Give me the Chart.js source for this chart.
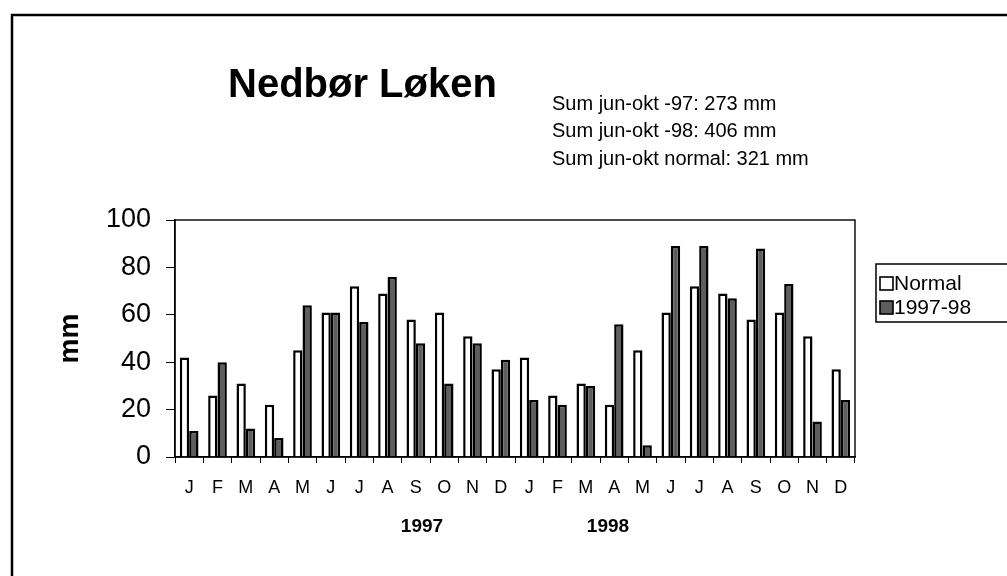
<!DOCTYPE html>
<html><head><meta charset="utf-8">
<script src="https://cdn.jsdelivr.net/npm/chart.js@4"></script>
<style>html,body{margin:0;padding:0;background:#fff}#wrap{width:1007px;height:576px;position:relative}</style>
</head><body><div id="wrap"><canvas id="c" width="1007" height="576"></canvas></div>
<script>
const months = ['J','F','M','A','M','J','J','A','S','O','N','D','J','F','M','A','M','J','J','A','S','O','N','D'];
const normal = [42,26,31,22,45,61,72,69,58,61,51,37, 42,26,31,22,45,61,72,69,58,61,51,37];
const obs = [11,40,12,8,64,61,57,76,48,31,48,41, 24,22,30,56,5,89,89,67,88,73,15,24];
const yTicks = [0,20,40,60,80,100];
const yearLabels = ['1997','1998'];
const titleText = 'Nedbør Løken';
const notes = ['Sum jun-okt -97: 273 mm','Sum jun-okt -98: 406 mm','Sum jun-okt normal: 321 mm'];
const seriesNames = ['Normal','1997-98'];

const FONT = "'Liberation Sans', Arial, sans-serif";
Chart.defaults.font.family = FONT;
Chart.defaults.color = '#000';

const deco = {
  id: 'deco',
  afterDraw(chart) {
    const ctx = chart.ctx, ca = chart.chartArea;
    ctx.save();
    // outer frame
    ctx.strokeStyle = '#000'; ctx.lineWidth = 2.5;
    ctx.beginPath(); ctx.moveTo(12, 576); ctx.lineTo(12, 15); ctx.lineTo(1007, 15); ctx.stroke();
    // plot frame
    ctx.lineWidth = 1.4;
    ctx.strokeRect(ca.left, ca.top, ca.right - ca.left, ca.bottom - ca.top);
    // title
    ctx.fillStyle = '#000';
    ctx.textBaseline = 'middle'; ctx.textAlign = 'left';
    ctx.font = "bold 40px " + FONT;
    ctx.fillText(titleText, 228, 86);
    ctx.font = "20px " + FONT;
    notes.forEach((t, i) => ctx.fillText(t, 552, 104 + i * 27.5));
    // year labels
    ctx.font = "bold 19px " + FONT; ctx.textAlign = 'center';
    ctx.fillText(yearLabels[0], ca.left + 247, 527);
    ctx.fillText(yearLabels[1], ca.left + 433, 527);
    // legend
    ctx.lineWidth = 1.5;
    ctx.strokeRect(876, 264, 140, 58);
    ctx.font = "21px " + FONT; ctx.textAlign = 'left';
    chart.data.datasets.forEach((ds, i) => {
      const y = 283 + i * 24;
      ctx.fillStyle = ds.backgroundColor;
      ctx.fillRect(880, y - 6, 13, 13);
      ctx.strokeStyle = '#000'; ctx.lineWidth = 1.6;
      ctx.strokeRect(880, y - 6, 13, 13);
      ctx.fillStyle = '#000';
      ctx.fillText(ds.label, 894, y + 1);
    });
    ctx.restore();
  }
};

new Chart(document.getElementById('c'), {
  type: 'bar',
  data: {
    labels: months,
    datasets: [
      { label: seriesNames[0], data: normal, backgroundColor: '#ffffff', borderColor: '#000', borderWidth: 2.5, borderSkipped: 'bottom', categoryPercentage: 0.66, barPercentage: 1.0 },
      { label: seriesNames[1], data: obs, backgroundColor: '#5e5e5e', borderColor: '#000', borderWidth: 2.5, borderSkipped: 'bottom', categoryPercentage: 0.66, barPercentage: 1.0 }
    ]
  },
  options: {
    responsive: false,
    animation: false,
    devicePixelRatio: 1,
    layout: { padding: { top: 220, right: 152, bottom: 0, left: 0 } },
    plugins: { legend: { display: false }, title: { display: false }, tooltip: { enabled: false } },
    scales: {
      x: {
        offset: true,
        grid: { display: true, drawOnChartArea: false, drawTicks: true, tickLength: 6, offset: true, color: '#000' },
        border: { display: true, color: '#000', width: 1.4 },
        ticks: { font: { size: 18 }, color: '#000', padding: 14, maxRotation: 0, autoSkip: false },
        afterFit(s) { s.height = 119; }
      },
      y: {
        min: 0, max: 100,
        afterBuildTicks(s) { s.ticks = yTicks.map(v => ({ value: v })); },
        grid: { display: true, drawOnChartArea: false, drawTicks: true, tickLength: 9, color: '#000' },
        border: { display: true, color: '#000', width: 1.4 },
        ticks: { font: { size: 27 }, color: '#000', padding: 15 },
        title: { display: true, text: 'mm', font: { size: 28, weight: 'bold' }, color: '#000', padding: { top: 53, bottom: 0 } },
        afterFit(s) { s.width = 175; }
      }
    }
  },
  plugins: [deco]
});
</script></body></html>
